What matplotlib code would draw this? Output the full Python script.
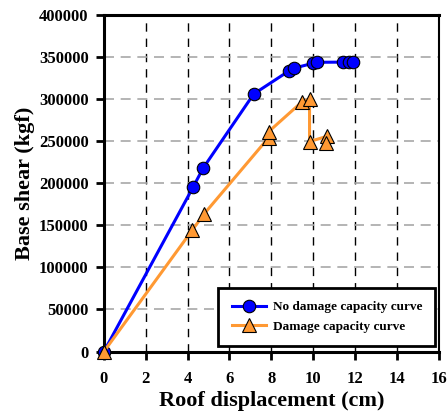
import matplotlib
matplotlib.use("Agg")
import matplotlib.pyplot as plt

# Capacity curves (roof displacement in cm, base shear in kgf)
disp_intact = [0.0, 4.26, 4.74, 7.16, 8.83, 9.07, 9.99, 10.2, 11.42, 11.7, 11.93]
shear_intact = [0, 195300, 217900, 306100, 333300, 336700, 342600, 343800, 344000, 344000, 344000]

disp_damaged = [0.0, 4.23, 4.79, 7.88, 7.88, 9.47, 9.83, 9.83, 10.68, 10.63]
shear_damaged = [0, 144600, 163600, 254400, 261400, 296800, 300000, 249600, 255900, 247300]

x_ticks = list(range(0, 17, 2))
y_ticks = list(range(0, 400001, 50000))

plt.rcParams['font.family'] = ['Liberation Serif', 'DejaVu Serif']
plt.rcParams['font.weight'] = 'bold'

fig = plt.figure(figsize=(4.48, 4.17), dpi=100)
ax = fig.add_axes([0.232, 0.157, 0.747, 0.807])

# grid: black dashes for x, grey dashes for y
for xv in x_ticks[1:-1]:
    ax.axvline(xv, color='black', lw=1.0, ls=(0, (6, 5)), zorder=0)
for yv in y_ticks[1:-1]:
    ax.axhline(yv, color='#a8a8a8', lw=1.2, ls=(0, (6, 4)), zorder=0)

ax.plot(disp_intact, shear_intact, color='#0000ff', lw=2.2, marker='o',
        ms=9, mfc='#0000ff', mec='black', mew=0.8,
        label='No damage capacity curve', zorder=3, clip_on=False)
ax.plot(disp_damaged, shear_damaged, color='#ff9933', lw=2.2, marker='^',
        ms=10, mfc='#ff9933', mec='black', mew=0.8,
        label='Damage capacity curve', zorder=4, clip_on=False)

ax.set_xlim(0, 16)
ax.set_ylim(0, 400000)
ax.set_xticks(x_ticks)
ax.set_yticks(y_ticks)
ax.set_xticklabels([str(v) for v in x_ticks], fontsize=12, fontweight='bold')
ax.set_yticklabels([str(v) for v in y_ticks], fontsize=12, fontweight='bold')
ax.tick_params(axis='both', direction='out', length=6, width=2, pad=5)
ax.tick_params(axis='x', pad=8)

for side in ['left', 'bottom', 'top']:
    ax.spines[side].set_linewidth(2.2)
ax.spines['right'].set_linewidth(1.5)

ax.set_xlabel('Roof displacement (cm)', fontsize=16, fontweight='bold', labelpad=3)
ax.set_ylabel('Base shear (kgf)', fontsize=16, fontweight='bold', labelpad=3)

leg = ax.legend(loc='lower right', fancybox=False, framealpha=1, edgecolor='black',
                prop={'size': 9.5, 'weight': 'bold'}, handlelength=2.6,
                handletextpad=0.5, borderpad=1.0, labelspacing=0.55,
                borderaxespad=0, bbox_to_anchor=(0.99, 0.017))
leg.get_frame().set_linewidth(2)

fig.savefig('out.png', dpi=100)
